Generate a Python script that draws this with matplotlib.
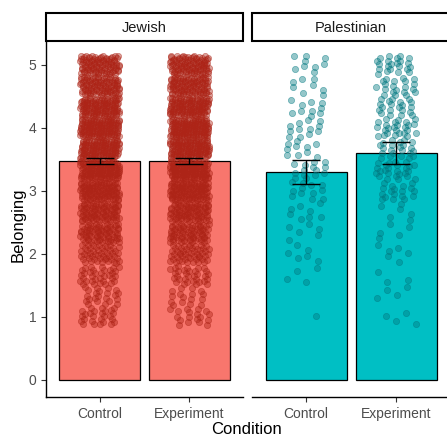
import matplotlib

matplotlib.use("Agg")
import matplotlib.pyplot as plt
import numpy as np
from matplotlib.patches import Rectangle

plt.rcParams["font.family"] = ["Liberation Sans", "DejaVu Sans"]

# Summary statistics per group
groups = ["Jewish", "Palestinian"]
conditions = ["Control", "Experiment"]
mean_jewish = [3.48, 3.48]
se_jewish = [0.05, 0.05]
mean_palestinian = [3.30, 3.60]
se_palestinian = [0.19, 0.17]

# Belonging is the mean of three items, so responses fall on thirds
levels = [1.0, 4 / 3, 5 / 3, 2.0, 7 / 3, 8 / 3, 3.0, 10 / 3, 11 / 3, 4.0, 13 / 3, 14 / 3, 5.0]
counts_jewish_control = [26, 22, 34, 50, 78, 88, 105, 118, 130, 135, 122, 105, 100]
counts_jewish_experiment = [18, 16, 32, 52, 75, 88, 108, 120, 132, 138, 125, 108, 104]
counts_pal_control = [1, 0, 4, 6, 6, 8, 12, 14, 10, 12, 10, 8, 9]
counts_pal_experiment = [4, 4, 3, 6, 5, 6, 18, 25, 22, 25, 20, 20, 22]

bar_colors = ["#F8766D", "#00BFC4"]
point_colors = [(0.68, 0.14, 0.09), (0.0, 0.47, 0.50)]

W, H = 447, 438
fig = plt.figure(figsize=(W / 100, H / 100), dpi=100)

panel_x = [(46, 243), (252, 450)]
panel_y = (41, 397)
strip_top = 13


def jitter_offsets(n, start):
    # quasi-even spread (R2 sequence) instead of random jitter
    idx = np.arange(start, start + n)
    gx = (idx * 0.7548776662) % 1.0
    gy = (idx * 0.5698402910) % 1.0
    return gx * 2 - 1, gy * 2 - 1


def expand(counts):
    return np.repeat(levels, counts)


point_data = {
    "Jewish": [expand(counts_jewish_control), expand(counts_jewish_experiment)],
    "Palestinian": [expand(counts_pal_control), expand(counts_pal_experiment)],
}
means = {"Jewish": mean_jewish, "Palestinian": mean_palestinian}
ses = {"Jewish": se_jewish, "Palestinian": se_palestinian}

for gi, group in enumerate(groups):
    x0, x1 = panel_x[gi]
    ax = fig.add_axes([x0 / W, (H - panel_y[1]) / H, (x1 - x0) / W, (panel_y[1] - panel_y[0]) / H])
    xs = np.arange(len(conditions))

    ax.bar(xs, means[group], width=0.9, color=bar_colors[gi], edgecolor="black", linewidth=0.9, zorder=1)

    seed = 1
    for ci in range(len(conditions)):
        yv = point_data[group][ci]
        jx, jy = jitter_offsets(len(yv), seed)
        seed += len(yv)
        rgb = point_colors[gi]
        ax.scatter(ci + jx * 0.22, yv + jy * 0.15, s=20, facecolor=(*rgb, 0.42),
                   edgecolor=(*rgb, 0.55), linewidth=0.5, zorder=2)

    ax.errorbar(xs, means[group], yerr=ses[group], fmt="none", ecolor="black",
                elinewidth=1.0, capsize=10, capthick=1.0, zorder=3)

    ax.set_xlim(-0.6, 1.6)
    ax.set_ylim(-0.27, 5.38)
    ax.set_xticks(xs)
    ax.set_xticklabels(conditions, fontsize=10, color="#4D4D4D")
    ax.set_yticks(range(6))
    ax.tick_params(axis="both", colors="#333333", labelcolor="#4D4D4D", length=3.5, width=0.8, labelsize=10)
    for side in ["top", "right"]:
        ax.spines[side].set_visible(False)
    ax.spines["bottom"].set_linewidth(1.0)
    if gi == 0:
        ax.spines["left"].set_linewidth(1.0)
    else:
        ax.spines["left"].set_visible(False)
        ax.tick_params(axis="y", left=False, labelleft=False)

    # facet strip
    sx = fig.add_axes([x0 / W, (H - panel_y[0]) / H, (x1 - x0) / W, (panel_y[0] - strip_top) / H])
    sx.set_axis_off()
    sx.add_patch(Rectangle((0, 0), 1, 1, transform=sx.transAxes, facecolor="white",
                           edgecolor="black", linewidth=1.5, clip_on=False))
    sx.text(0.5, 0.45, group, ha="center", va="center", fontsize=10.5, color="#1A1A1A",
            transform=sx.transAxes)

fig.text(18 / W, 1 - 225 / H, "Belonging", rotation=90, ha="center", va="center", fontsize=12)
fig.text(246 / W, 1 - 430 / H, "Condition", ha="center", va="center", fontsize=12)

fig.savefig("out.png", dpi=100)
